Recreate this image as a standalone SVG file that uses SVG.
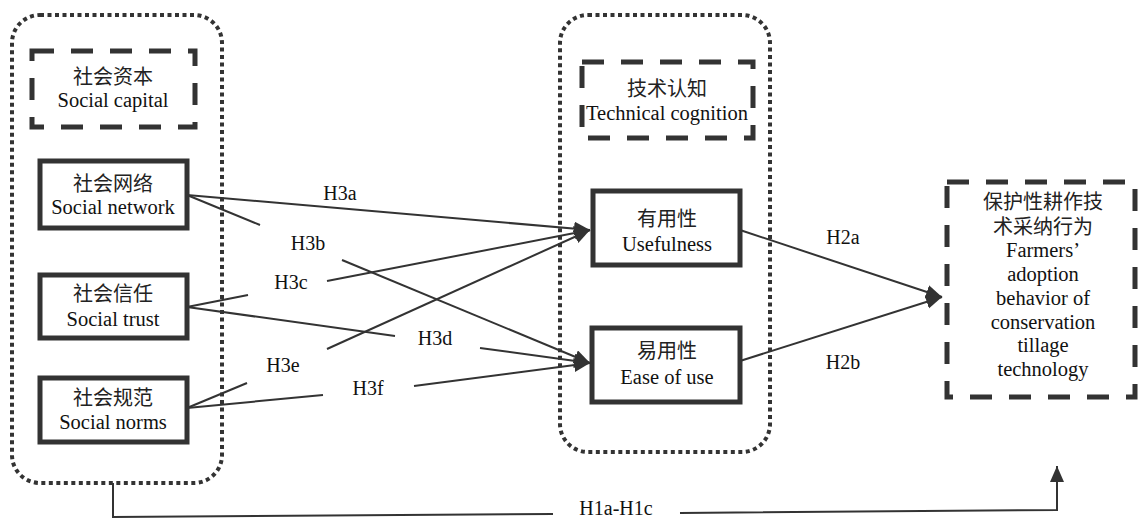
<svg xmlns="http://www.w3.org/2000/svg" width="1139" height="520" viewBox="0 0 1139 520">
<style>
text{font-family:"Liberation Serif","Times New Roman",Times,serif;font-size:20.5px;fill:#111;text-anchor:middle}
text.zh{font-family:"Noto Sans CJK SC","Noto Sans CJK JP",sans-serif;font-size:20px;fill:#222}
.lbl{font-size:20px}
.dot{fill:none;stroke:#333;stroke-width:4;stroke-dasharray:4 3.5}
.dash{fill:none;stroke:#333;stroke-width:5;stroke-dasharray:22 17}
.box{fill:#fff;stroke:#333;stroke-width:5}
.ln{fill:none;stroke:#333;stroke-width:2}
.ar{fill:none;stroke:#333;stroke-width:2;marker-end:url(#ah)}
</style>
<defs>
<marker id="ah" markerUnits="userSpaceOnUse" markerWidth="18" markerHeight="16" refX="16" refY="7" orient="auto">
<path d="M0,0 L16,7 L0,14 z" fill="#333"/>
</marker>
</defs>
<rect width="1139" height="520" fill="#fff"/>
<g id="social-capital-group">
<rect class="dot" x="12" y="15" width="210" height="468" rx="28"/>
</g>
<g id="technical-cognition-group">
<rect class="dot" x="560" y="15" width="210" height="437" rx="28"/>
</g>
<g id="connectors">
<line class="ar" x1="187" y1="195" x2="590" y2="230"/>
<line class="ln" x1="187" y1="195" x2="260" y2="225"/>
<line class="ar" x1="342" y1="260" x2="590" y2="363"/>
<line class="ln" x1="187" y1="307" x2="248" y2="295"/>
<line class="ar" x1="327" y1="281" x2="590" y2="230"/>
<line class="ln" x1="187" y1="307" x2="395" y2="336"/>
<line class="ar" x1="480" y1="348" x2="590" y2="363"/>
<line class="ln" x1="187" y1="408" x2="247" y2="383"/>
<line class="ar" x1="327" y1="349" x2="590" y2="230"/>
<line class="ln" x1="187" y1="408" x2="323" y2="395"/>
<line class="ar" x1="414" y1="386" x2="590" y2="363"/>
<line class="ar" x1="740" y1="230" x2="942" y2="297"/>
<line class="ar" x1="740" y1="361" x2="942" y2="297"/>
<polyline class="ln" points="113,483 113,517 553,514"/>
<polyline class="ar" points="680,513 1057,510 1057,466"/>
<text class="lbl" x="340" y="200">H3a</text>
<text class="lbl" x="308" y="250">H3b</text>
<text class="lbl" x="291" y="289">H3c</text>
<text class="lbl" x="435" y="345">H3d</text>
<text class="lbl" x="283" y="372">H3e</text>
<text class="lbl" x="368" y="395">H3f</text>
<text class="lbl" x="843" y="244">H2a</text>
<text class="lbl" x="843" y="369">H2b</text>
<text class="lbl" x="616" y="515">H1a-H1c</text>
</g>
<g id="social-capital">
<rect class="dash" x="32" y="51" width="163" height="76"/>
<text class="zh" x="113" y="84">社会资本</text>
<text x="113" y="107">Social capital</text>
</g>
<g id="social-network">
<rect class="box" x="40" y="161" width="147" height="67"/>
<text class="zh" x="113" y="191">社会网络</text>
<text x="113" y="214">Social network</text>
</g>
<g id="social-trust">
<rect class="box" x="40" y="275" width="147" height="63"/>
<text class="zh" x="113" y="301">社会信任</text>
<text x="113" y="326">Social trust</text>
</g>
<g id="social-norms">
<rect class="box" x="40" y="378" width="147" height="64"/>
<text class="zh" x="113" y="405">社会规范</text>
<text x="113" y="429">Social norms</text>
</g>
<g id="technical-cognition">
<rect class="dash" x="582" y="62" width="171" height="76"/>
<text class="zh" x="667" y="96">技术认知</text>
<text x="667" y="120">Technical cognition</text>
</g>
<g id="usefulness">
<rect class="box" x="593" y="191" width="147" height="74"/>
<text class="zh" x="667" y="226">有用性</text>
<text x="667" y="251">Usefulness</text>
</g>
<g id="ease-of-use">
<rect class="box" x="592" y="328" width="148" height="74"/>
<text class="zh" x="667" y="358">易用性</text>
<text x="667" y="384">Ease of use</text>
</g>
<g id="adoption-behavior">
<rect class="dash" x="947" y="182" width="188" height="215"/>
<text class="zh" x="1043" y="209">保护性耕作技</text>
<text class="zh" x="1043" y="234">术采纳行为</text>
<text x="1043" y="257">Farmers’</text>
<text x="1043" y="281">adoption</text>
<text x="1043" y="305">behavior of</text>
<text x="1043" y="329">conservation</text>
<text x="1043" y="352">tillage</text>
<text x="1043" y="376">technology</text>
</g>
</svg>
